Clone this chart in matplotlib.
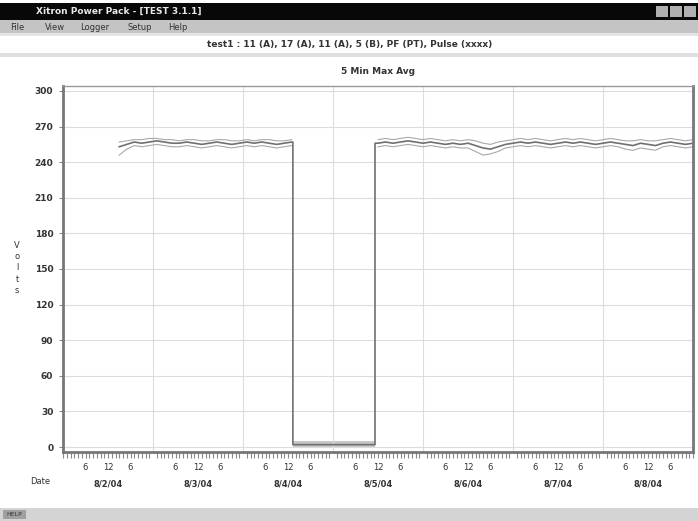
import matplotlib.pyplot as plt
import matplotlib.transforms as mtransforms
from matplotlib.patches import Rectangle
import numpy as np

# window / chart text
window_title = 'Xitron Power Pack - [TEST 3.1.1]'
menu_items = ['File', 'View', 'Logger', 'Setup', 'Help']
header = 'test1 : 11 (A), 17 (A), 11 (A), 5 (B), PF (PT), Pulse (xxxx)'
chart_title = '5 Min Max Avg'
dates = ['8/2/04', '8/3/04', '8/4/04', '8/5/04', '8/6/04', '8/7/04', '8/8/04']

# first run: hours since start of 8/2/04
seg1_hours = np.arange(15, 62, 2)
seg1_avg = [253, 255, 257, 256, 257, 258, 257, 256, 256, 257, 256, 255,
            256, 257, 256, 255, 256, 257, 256, 257, 256, 255, 256, 257]
seg1_max = [257, 258, 259, 259, 260, 260, 259, 259, 258, 259, 259, 258,
            258, 259, 259, 258, 258, 259, 258, 259, 259, 258, 258, 259]
seg1_min = [246, 251, 254, 253, 254, 255, 254, 253, 253, 254, 253, 252,
            253, 254, 253, 252, 253, 254, 253, 254, 253, 252, 253, 254]

# outage
outage_start = 61.3
outage_end = 83.2
outage_level = 2
outage_max = 5

# second run
seg2_hours = np.arange(84, 169, 2)
seg2_avg = [256, 257, 256, 257, 258, 257, 256, 257, 256, 255,
            256, 255, 256, 254, 252, 251, 253, 255, 256, 257,
            256, 257, 256, 255, 256, 257, 256, 257, 256, 255,
            256, 257, 256, 255, 254, 256, 255, 254, 256, 257,
            256, 255, 256]
seg2_max = [259, 260, 259, 260, 261, 260, 259, 260, 259, 258,
            259, 258, 259, 258, 256, 255, 257, 258, 259, 260,
            259, 260, 259, 258, 259, 260, 259, 260, 259, 258,
            259, 260, 259, 258, 258, 259, 258, 258, 259, 260,
            259, 258, 259]
seg2_min = [253, 254, 253, 254, 255, 254, 253, 254, 253, 252,
            253, 252, 252, 249, 246, 247, 249, 252, 253, 254,
            253, 254, 253, 252, 253, 254, 253, 254, 253, 252,
            253, 254, 253, 251, 250, 252, 251, 250, 253, 254,
            253, 252, 253]

W, H = 698, 521
fig = plt.figure(figsize=(W / 100, H / 100), dpi=100)
fig.patch.set_facecolor('white')


def fy(py):
    return 1 - py / H


def rect(x0, y0, x1, y1, color):
    fig.patches.append(Rectangle((x0 / W, fy(y1)), (x1 - x0) / W, (y1 - y0) / H,
                                 transform=fig.transFigure, facecolor=color,
                                 edgecolor='none'))


# window chrome
rect(0, 3, W, 20, '#080808')
fig.text(36 / W, fy(11.5), window_title, color='#e8e8e8', fontsize=6.5,
         fontweight='bold', va='center')
for bx in [656, 670, 684]:
    rect(bx, 6, bx + 12, 17, '#b0b0b0')
rect(0, 20, W, 33, '#c4c4c4')
mx = 10
for item in menu_items:
    fig.text(mx / W, fy(27), item, fontsize=6, va='center', color='#333333')
    mx += 7 + 6 * len(item) + 4
rect(0, 33, W, 36, '#e4e4e4')
fig.text(350 / W, fy(45), header, fontsize=6.5, fontweight='bold', ha='center',
         va='center', color='#333333')
rect(0, 53, W, 57, '#e0e0e0')
rect(0, 508, W, H, '#d4d4d4')
rect(3, 510, 26, 519, '#a0a0a0')
fig.text(6 / W, fy(514.5), 'HELP', fontsize=4.5, va='center', color='#333333')

# plot area
ax = fig.add_axes([63 / W, fy(452), 630 / W, 366 / H])
ax.set_xlim(0, 168)
ax.set_ylim(-4.2, 304.2)

ax.set_yticks(np.arange(0, 301, 30))
ax.yaxis.grid(True, color='#dcdcdc', lw=0.8)
ax.set_xticks(np.arange(24, 168, 24), minor=False)
ax.xaxis.grid(True, color='#dcdcdc', lw=0.8)
ax.tick_params(axis='x', which='major', length=0, labelbottom=False)
ax.set_xticks(np.arange(0, 169, 1), minor=True)
ax.tick_params(axis='x', which='minor', length=4, color='#888888', width=0.8)
ax.tick_params(axis='y', length=3, color='#888888', labelsize=6.5,
               labelcolor='#333333', pad=4)
for lab in ax.get_yticklabels():
    lab.set_fontweight('bold')
for side in ['left', 'bottom', 'right']:
    ax.spines[side].set_color('#777777')
    ax.spines[side].set_linewidth(2)
ax.spines['top'].set_color('#999999')
ax.spines['top'].set_linewidth(1)

# hour and date labels
trans = mtransforms.blended_transform_factory(ax.transData, ax.transAxes)
for d, date in enumerate(dates):
    for h, lab in [(6, '6'), (12, '12'), (18, '6')]:
        ax.text(d * 24 + h, -0.03, lab, transform=trans, ha='center', va='top',
                fontsize=6, color='#333333')
    ax.text(d * 24 + 12, -0.075, date, transform=trans, ha='center', va='top',
            fontsize=6, fontweight='bold', color='#333333')
fig.text(40 / W, fy(481), 'Date', fontsize=6, ha='center', va='center',
         color='#333333')
fig.text(17 / W, fy(268), 'V\no\nl\nt\ns', fontsize=6, ha='center', va='center',
         color='#333333', linespacing=1.35)
ax.set_title(chart_title, fontsize=6.5, fontweight='bold', color='#333333', pad=9)

# outage band
ax.fill_between([outage_start, outage_end], 0, outage_max, color='#c8c8c8', lw=0)

# traces
x_avg = np.concatenate([seg1_hours, [outage_start, outage_start, outage_end, outage_end], seg2_hours])
y_avg = np.concatenate([seg1_avg, [seg1_avg[-1], outage_level, outage_level, seg2_avg[0]], seg2_avg])
for hrs, vals in [(seg1_hours, seg1_max), (seg1_hours, seg1_min),
                  (seg2_hours, seg2_max), (seg2_hours, seg2_min)]:
    ax.plot(hrs, vals, color='#a8a8a8', lw=0.8)
ax.plot(x_avg, y_avg, color='#707070', lw=1.2)

fig.savefig('out.png', dpi=100)
